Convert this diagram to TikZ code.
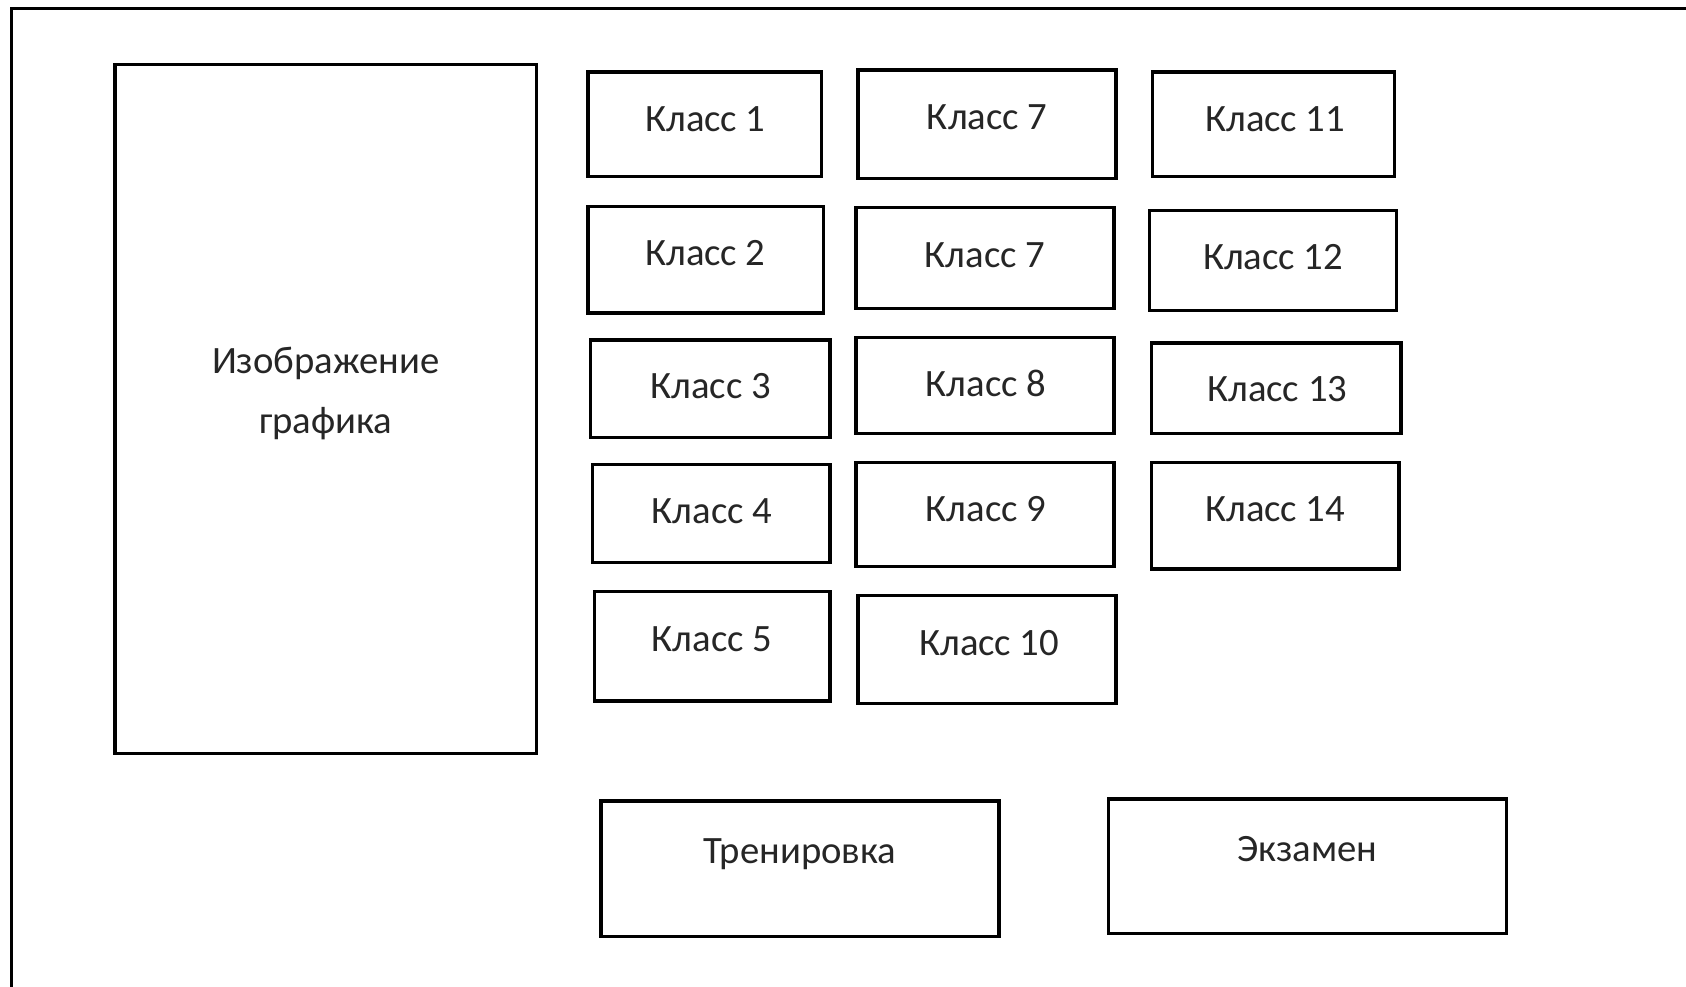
\documentclass[tikz,border=0pt]{standalone}
\usepackage{fontspec}
\setmainfont{Carlito}
\tikzset{
  boxline/.style={draw=black, line width=3.2pt},
  lbl/.style={anchor=base, inner sep=0pt, font=\fontsize{36}{40}\selectfont, text=black!85},
  framebox/.style={draw=black, line width=3.2pt}
}
\newcommand\kbox[8]{%
  \node[boxline, rectangle, inner sep=0pt, minimum width={#4-#2}, minimum height={#5-#3}] (#1) at ({(#2+#4)/2},{(#3+#5)/2}) {};
  \node[lbl] (#1t) at (#6,#7) {#8};
}
\begin{document}
\begin{tikzpicture}[x=1pt,y=-1pt]
\useasboundingbox (0,0) rectangle (1568,917);
\begin{scope}
\clip (0,0) rectangle (1568,917);
\fill[white] (0,0) rectangle (1568,917);
\draw[framebox] (10.5,8) rectangle (1620,970);
\end{scope}
% big image box
\node[boxline, rectangle, inner sep=0pt, minimum width=392pt, minimum height=641pt] (img) at (303,380.5) {};
\node[lbl] (imgt1) at (303,347) {Изображение};
\node[lbl] (imgt2) at (303,403) {графика};
% column 1
\kbox{k1}{547}{67}{764}{164}{656}{122}{Класс 1}
\kbox{k2}{547}{192}{766}{291}{656}{247}{Класс 2}
\kbox{k3}{549}{316}{772}{407}{661}{371}{Класс 3}
\kbox{k4}{551}{432}{772}{523}{662}{487}{Класс 4}
\kbox{k5}{553}{550}{772}{652}{662}{606}{Класс 5}
% column 2
\kbox{k7a}{798}{65}{1038}{166}{918}{120}{Класс 7}
\kbox{k7b}{796}{193}{1036}{287}{916}{249}{Класс 7}
\kbox{k8}{796}{314}{1036}{403}{917}{369}{Класс 8}
\kbox{k9}{796}{430}{1036}{527}{917}{485}{Класс 9}
\kbox{k10}{798}{554}{1038}{654}{920}{610}{Класс 10}
% column 3
\kbox{k11}{1072}{67}{1297}{164}{1186}{122}{Класс 11}
\kbox{k12}{1069}{196}{1299}{289}{1184}{251}{Класс 12}
\kbox{k13}{1071}{319}{1303}{403}{1188}{373}{Класс 13}
\kbox{k14}{1071}{430}{1301}{529}{1186}{485}{Класс 14}
% bottom buttons
\kbox{train}{559}{745}{929}{871}{744}{803}{Тренировка}
\kbox{exam}{1031}{743}{1401}{868}{1216}{801}{Экзамен}
\end{tikzpicture}
\end{document}
